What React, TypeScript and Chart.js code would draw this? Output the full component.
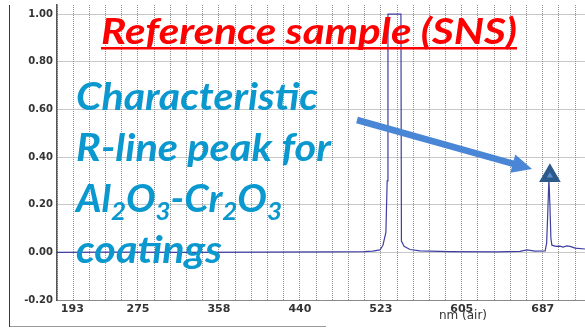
import React, { useEffect, useRef } from 'react';
import { Chart, registerables } from 'chart.js';

Chart.register(...registerables);

// Spectrum (wavelength in nm, normalised intensity)
const wavelengthsNm = [
  193, 250, 320, 400, 470, 505, 514, 521.5, 524.5, 527.5,
  528.8, 529.6, 542.8, 543.3, 546, 552, 562, 592, 640, 664,
  671, 679, 689.5, 691, 692, 693.3, 694.3, 695.3, 696.3, 700.4,
  704.5, 707.6, 711.7, 714.8, 720, 730,
];
const intensities = [
  0.0, 0.001, 0.0, 0.001, 0.002, 0.003, 0.005, 0.01, 0.03, 0.084,
  0.3, 1.0, 1.0, 0.047, 0.025, 0.012, 0.006, 0.003, 0.002, 0.004,
  0.01, 0.005, 0.006, 0.04, 0.15, 0.31, 0.2, 0.06, 0.03, 0.025,
  0.026, 0.022, 0.027, 0.025, 0.018, 0.014,
];

// Peak marker
const markerNm = [694.3];
const markerIntensity = [0.321];

// Axes
const xMinNm = 193;
const xMaxNm = 730;
const xGridStepNm = 16.467;
const xGridCount = 33;
const xLabelEvery = 5;
const xTickLabels = ['193', '275', '358', '440', '523', '605', '687'];
const yMin = -0.2;
const yMax = 1.038;
const yTickValues = [-0.2, 0, 0.2, 0.4, 0.6, 0.8, 1.0];
const xAxisTitle = 'nm (air)';

// Annotation texts
const titleText = 'Reference sample (SNS)';
const noteLine1 = 'Characteristic';
const noteLine2 = 'R-line peak for';
const noteLine4 = 'coatings';

export default function App() {
  const canvasRef = useRef<HTMLCanvasElement>(null);

  useEffect(() => {
    const canvas = canvasRef.current;
    if (!canvas) return;
    const chart = new Chart(canvas, {
      type: 'line',
      data: {
        datasets: [
          {
            type: 'scatter',
            data: markerNm.map((x, i) => ({ x, y: markerIntensity[i] })),
            pointStyle: 'triangle',
            pointRadius: 3.5,
            backgroundColor: '#5b8ed0',
            borderColor: '#5b8ed0',
            borderWidth: 0,
            order: 0,
          } as any,
          {
            type: 'scatter',
            data: markerNm.map((x, i) => ({ x, y: markerIntensity[i] })),
            pointStyle: 'triangle',
            pointRadius: 10.5,
            backgroundColor: '#2b5a8b',
            borderColor: '#2b5a8b',
            borderWidth: 2,
            order: 1,
          } as any,
          {
            data: wavelengthsNm.map((x, i) => ({ x, y: intensities[i] })),
            borderColor: '#3f3fa2',
            borderWidth: 1.2,
            pointRadius: 0,
            tension: 0,
            fill: false,
            order: 2,
          } as any,
        ],
      },
      options: {
        animation: false,
        responsive: false,
        maintainAspectRatio: false,
        layout: { autoPadding: false, padding: { top: 0, left: 0, right: 0, bottom: 0 } },
        plugins: {
          legend: { display: false },
          tooltip: { enabled: false },
          title: { display: false },
        },
        scales: {
          x: {
            type: 'linear',
            min: xMinNm,
            max: xMaxNm,
            afterBuildTicks: (s: any) => {
              s.ticks = Array.from({ length: xGridCount }, (_, i) => ({ value: xMinNm + i * xGridStepNm }));
            },
            afterFit: (s: any) => {
              s.height = 28;
              s.paddingRight = 0;
            },
            ticks: {
              autoSkip: false,
              maxRotation: 0,
              minRotation: 0,
              padding: 3,
              color: '#333',
              font: { family: 'DejaVu Sans', size: 11, weight: 'bold' },
              callback: (_v: any, i: number) => {
                if (i % xLabelEvery !== 0) return '';
                const lbl = xTickLabels[i / xLabelEvery] ?? '';
                return i === 0 ? '        ' + lbl : lbl;
              },
            },
            grid: { color: '#909090', lineWidth: 1, drawTicks: false },
            border: { display: true, color: '#8a8a8a', width: 1, dash: [1, 1] },
          },
          y: {
            type: 'linear',
            min: yMin,
            max: yMax,
            afterBuildTicks: (s: any) => {
              s.ticks = yTickValues.map((v) => ({ value: v }));
            },
            afterFit: (s: any) => {
              s.width = 57;
              s.paddingTop = 5;
            },
            ticks: {
              padding: 4,
              color: '#333',
              font: { family: 'DejaVu Sans', size: 10, weight: 'bold' },
              callback: (v: any) => Number(v).toFixed(2),
            },
            grid: { color: '#909090', lineWidth: 1, drawTicks: false },
            border: { display: true, color: '#555', width: 1.5, dash: [1, 1] },
          },
        },
      } as any,
    });
    return () => chart.destroy();
  }, []);

  const blue = '#0a98cf';
  const fontStack = "Lato, 'Open Sans', 'Noto Sans', sans-serif";

  return (
    <div
      style={{
        position: 'fixed',
        left: 0,
        top: 0,
        width: 585,
        height: 328,
        overflow: 'hidden',
        background: '#fff',
      }}
    >
      <canvas ref={canvasRef} width={585} height={328} style={{ display: 'block', width: 585, height: 328 }} />
      {/* image frame */}
      <div style={{ position: 'absolute', left: 9, top: 5, width: 0, height: 322, borderLeft: '1.5px solid #3a3a3a' }} />
      <div style={{ position: 'absolute', left: 10, top: 326, width: 316, height: 0, borderTop: '1px solid #9a9a9a' }} />
      <svg
        width={585}
        height={328}
        style={{ position: 'absolute', left: 0, top: 0, pointerEvents: 'none' }}
      >
        <text
          x={101}
          y={44}
          fill="#ff0000"
          fontFamily={fontStack}
          fontWeight={700}
          fontStyle="italic"
          fontSize={37}
          textLength={416}
          lengthAdjust="spacingAndGlyphs"
        >
          {titleText}
        </text>
        <rect x={101} y={47} width={416} height={2.5} fill="#ff0000" />

        <text x={76} y={110} fill={blue} fontFamily={fontStack} fontWeight={700} fontStyle="italic" fontSize={38} textLength={242} lengthAdjust="spacingAndGlyphs">
          {noteLine1}
        </text>
        <text x={76} y={161} fill={blue} fontFamily={fontStack} fontWeight={700} fontStyle="italic" fontSize={38} textLength={255} lengthAdjust="spacingAndGlyphs">
          {noteLine2}
        </text>
        <text x={76} y={212} fill={blue} fontFamily={fontStack} fontWeight={700} fontStyle="italic" fontSize={38} textLength={206} lengthAdjust="spacingAndGlyphs">
          Al<tspan dy={8} fontSize={25}>2</tspan><tspan dy={-8}>O</tspan><tspan dy={8} fontSize={25}>3</tspan><tspan dy={-8}>-Cr</tspan><tspan dy={8} fontSize={25}>2</tspan><tspan dy={-8}>O</tspan><tspan dy={8} fontSize={25}>3</tspan>
        </text>
        <text x={76} y={263} fill={blue} fontFamily={fontStack} fontWeight={700} fontStyle="italic" fontSize={38} textLength={146} lengthAdjust="spacingAndGlyphs">
          {noteLine4}
        </text>

        <line x1={357} y1={120} x2={514} y2={164} stroke="#4a86d6" strokeWidth={6.5} />
        <polygon points="532,169 510.3,172.8 515.3,154.6" fill="#4a86d6" />

        <text x={463} y={319} fill="#333" fontFamily="'DejaVu Sans', Verdana, sans-serif" fontSize={12} textAnchor="middle">
          {xAxisTitle}
        </text>
      </svg>
    </div>
  );
}
